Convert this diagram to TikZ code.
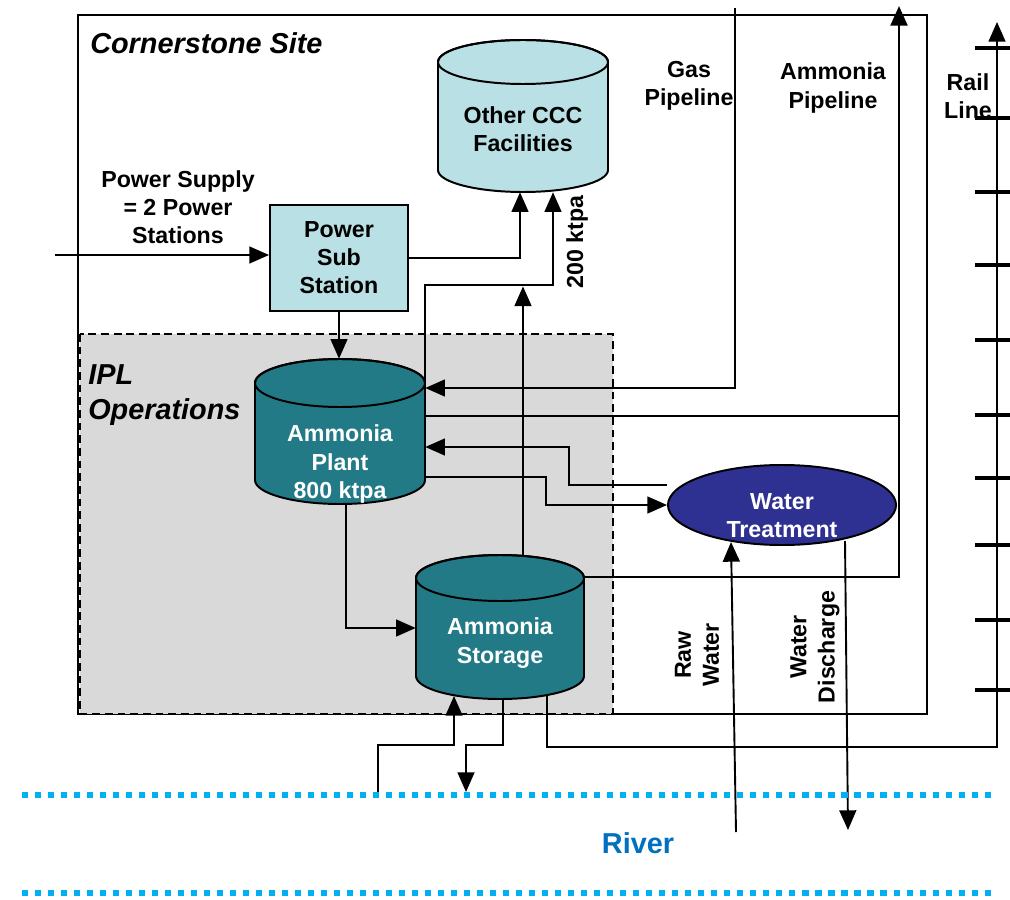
\documentclass[tikz,border=0pt]{standalone}
\usepackage{fontspec}
\setmainfont{Liberation Sans}
\usetikzlibrary{arrows.meta,shapes.geometric,fit}
\definecolor{lb}{HTML}{B9E0E5}
\definecolor{tealc}{HTML}{217A86}
\definecolor{navyc}{HTML}{2E3192}
\definecolor{ipl}{HTML}{D9D9D9}
\definecolor{rivdot}{HTML}{00B0F0}
\definecolor{rivtxt}{HTML}{0070C0}
\newcommand\drawcyl[6]{%
  \filldraw[fill=#6, line width=1.4pt] ({#1-#4},{-#2}) -- ({#1-#4},{-#3})
    arc[start angle=180,end angle=360,x radius=#4,y radius=#5]
    -- ({#1+#4},{-#2}) arc[start angle=0,end angle=180,x radius=#4,y radius=#5] -- cycle;
  \draw[line width=1.4pt] (#1,{-#2}) ellipse[x radius=#4, y radius=#5];
}
\tikzset{
  lbl/.style={font=\fontsize{16.5}{20}\selectfont\bfseries, align=center, inner sep=0pt},
  wlbl/.style={lbl, text=white},
  big/.style={font=\fontsize{20.5}{25}\selectfont\bfseries\itshape, align=left, inner sep=0pt},
  conn/.style={line width=1.35pt},
  arr/.style={conn, -{Triangle[length=14pt,width=12pt]}},
  holder/.style={inner sep=0pt, draw=none},
  rdots/.style={rivdot, line width=4.3pt, dash pattern=on 4.3pt off 4.95pt},
  tick/.style={line width=2.2pt}
}
\begin{document}
\begin{tikzpicture}[x=0.025cm,y=0.025cm]
\useasboundingbox (0,0) rectangle (1010,-899);
% outer site
\draw[line width=1.6pt] (78,-15) rectangle (927,-714);
% IPL region
\filldraw[fill=ipl, draw=black, line width=1.3pt, dash pattern=on 5.5pt off 3.5pt] (80,-334) rectangle (613,-714);
\node[big, anchor=west] (site) at (90,-43) {Cornerstone Site};
\node[big, anchor=west] (ipltxt) at (88,-395) {IPL\\Operations};

% Other CCC
\drawcyl{523}{62}{170}{85}{22}{lb}
\node[holder, fit={(438,-40) (608,-192)}] (ccc) {};
\node[lbl] (ccctxt) at (523,-129) {Other CCC\\Facilities};

% Power Sub Station
\node[holder, fit={(270,-205) (408,-311)}, draw=black, fill=lb, line width=1.4pt] (pss) {};
\node[lbl] (psstxt) at (339,-258) {Power\\Sub\\Station};

% Ammonia plant
\drawcyl{340}{383}{480}{85}{24}{tealc}
\node[holder, fit={(255,-359) (425,-504)}] (plant) {};
\node[wlbl] (planttxt) at (340,-464) {Ammonia\\Plant\\800 ktpa};

% Ammonia storage
\drawcyl{500}{578}{676}{84}{23}{tealc}
\node[holder, fit={(416,-555) (584,-699)}] (stor) {};
\node[wlbl] (stortxt) at (500,-643) {Ammonia\\Storage};

% Water treatment
\node[ellipse, draw, fill=navyc, minimum width=5.7cm, minimum height=2cm, inner sep=0pt, line width=1.4pt] (wt) at (782,-505) {};
\node[wlbl] (wttxt) at (782,-516) {Water\\Treatment};

% labels
\node[lbl] (pstxt) at (178,-207) {Power Supply\\= 2 Power\\Stations};
\node[lbl] (gastxt) at (689,-86) {Gas\\Pipeline};
\node[lbl] (ammtxt) at (833,-88) {Ammonia\\Pipeline};
\node[lbl] (railtxt) at (968,-96) {Rail\\Line};
\node[lbl, rotate=90] (ktpa) at (577,-242) {200 ktpa};
\node[lbl, rotate=90] (rwtxt) at (697,-655) {Raw\\Water};
\node[lbl, rotate=90] (wdtxt) at (815,-647) {Water\\Discharge};
\node[font=\fontsize{20.5}{25}\selectfont\bfseries, text=rivtxt, inner sep=0pt] (river) at (638,-843) {River};

% coordinates of free ends
\coordinate (psin) at (55,-255);
\coordinate (gastop) at (735,-8);
\coordinate (ammtop) at (899,-6);
\coordinate (railtop) at (997,-22);
\coordinate (railbot) at (997,-747);
\coordinate (rin) at (378,-795);
\coordinate (rout) at (466,-792);
\coordinate (rwin) at (736,-832);
\coordinate (wdout) at (848,-830);
\coordinate (j200) at (523,-285);

% connectors
\draw[arr] (psin) -- (pss.west |- psin);
\draw[arr] (pss.east |- 0,-258) -| (ccc.south -| 520,0);
\draw[arr] (plant.east |- 0,-391) |- (553,-285) -- (ccc.south -| 553,-191);
\draw[arr] (stor.north -| 523,0) -- ([yshift=-1pt]j200);
\draw[arr] (pss.south) -- (pss.south |- plant.north);
\draw[arr] (gastop) |- (plant.east |- 0,-388);
\draw[conn] (plant.east |- 0,-416) -- (900,-416);
\draw[arr, line width=1.9pt] (stor.east |- 0,-577) -| (ammtop);
\draw[arr] (plant.east |- 0,-477) -| (546,-505) -- (wt.west);
\draw[arr] (wt.west |- 0,-485) -| (569,-447) -- (plant.east |- 0,-447);
\draw[arr] (plant.south -| 346,0) |- (stor.west |- 0,-628);
\draw[arr] (rin) |- (454,-745) -- (454,-696);
\draw[arr] (503,-698) |- (466,-745) -- (rout);
\draw[arr] (547,-696) |- (railbot) -- (railtop);
\draw[arr] (rwin) -- (731,-542);
\draw[arr] (845,-541) -- (wdout);

% rail ticks
\foreach \t in {48,118,192,265,340,415,478,545,620,690}
  \draw[tick] (975,-\t) -- (1010,-\t);

% river
\draw[rdots] (22,-795) -- (995,-795);
\draw[rdots] (22,-893) -- (995,-893);
\end{tikzpicture}
\end{document}
